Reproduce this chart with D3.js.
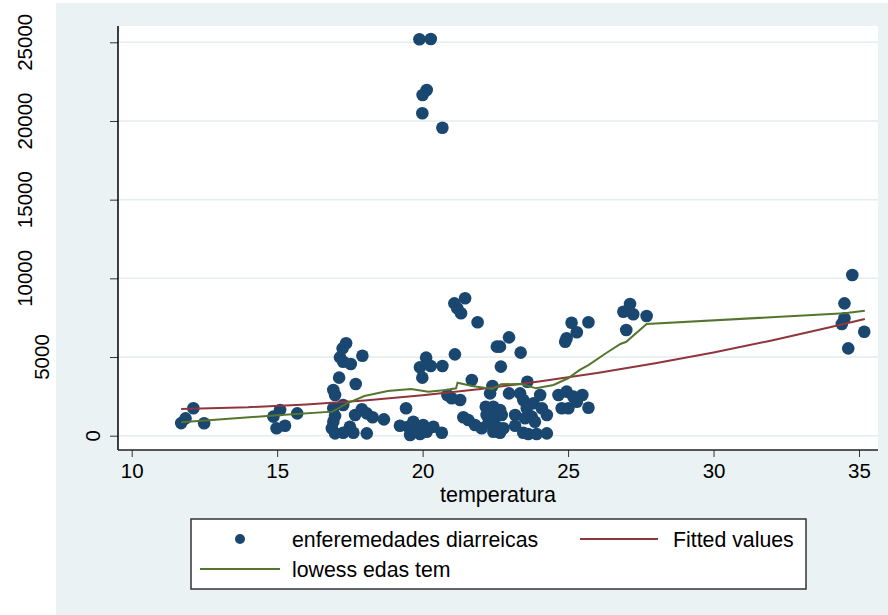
<!DOCTYPE html>
<html>
<head>
<meta charset="utf-8">
<script src="https://cdn.jsdelivr.net/npm/d3@7"></script>
<style>
  html, body { margin: 0; padding: 0; background: #fff; }
  svg { display: block; font-family: "Liberation Sans", Arial, sans-serif; }
</style>
</head>
<body>
<div id="chart"></div>
<script>
// scatter: temperatura vs enferemedades diarreicas
const tempX = [11.70, 11.85, 12.12, 12.49, 14.87, 15.10, 14.98, 15.27, 15.69,
  17.37, 17.25, 17.16, 17.27, 17.53, 17.93, 17.13, 16.93, 16.99, 17.70, 17.27, 16.99, 17.68, 17.91, 18.08, 18.28, 18.67,
  16.93, 16.88, 16.99, 17.27, 17.62, 18.08, 17.50, 16.93,
  19.43, 19.22, 19.51, 19.68, 19.80, 20.02, 20.14, 20.37, 20.66, 19.57, 19.91,
  20.12, 19.91, 20.28, 20.68, 19.99, 21.11, 21.09, 21.19, 21.32, 21.46, 21.89, 21.69,
  20.85, 21.00, 21.29, 21.40, 21.57, 21.80, 22.03,
  19.89, 20.28, 20.14, 20.00, 19.99, 20.68,
  22.66, 22.97, 22.55, 23.37, 22.69, 22.40, 22.32, 22.97, 23.60, 22.17, 22.43, 22.66, 22.20, 22.49, 22.72,
  22.26, 22.55, 22.78, 22.43, 22.66, 23.18, 23.18, 23.35, 23.46, 23.58, 23.81, 24.04, 24.10, 24.27,
  23.52, 23.75, 23.86, 23.46, 23.63, 23.92, 24.27,
  24.67, 24.95, 25.18, 25.49, 24.78, 25.01, 25.30, 25.70,
  24.90, 24.95, 25.12, 25.70, 25.30,
  27.13, 26.90, 27.24, 27.70, 27.00,
  34.77, 34.50, 34.50, 34.41, 35.18, 34.63];
const casosY = [800, 1100, 1740, 790, 1210, 1630, 470, 635, 1420,
  5870, 5550, 4980, 4700, 4560, 5080, 3690, 2900, 2590, 3290, 1950, 1250, 1320, 1680, 1420, 1170, 1040,
  890, 470, 150, 190, 190, 150, 570, 1740,
  1740, 635, 570, 890, 250, 680, 250, 570, 190, 40, 110,
  4960, 4350, 4430, 4430, 3690, 5170, 8410, 8100, 7780, 8730, 7210, 3540,
  2590, 2380, 2270, 1170, 1000, 680, 470,
  25190, 25210, 21970, 21650, 20490, 19570,
  5660, 6250, 5660, 5280, 4390, 3160, 2690, 2690, 3430, 1840, 1840, 1630, 1320, 1210, 1320,
  790, 570, 470, 250, 190, 1320, 635, 2690, 2270, 1740, 2060, 2590, 1740, 1320,
  1110, 1210, 890, 190, 110, 110, 150,
  2590, 2800, 2480, 2590, 1740, 1740, 2160, 1780,
  5970, 6190, 7180, 7210, 6570,
  8370, 7880, 7720, 7610, 6720,
  10210, 8410, 7460, 7100, 6610, 5550];

// Fitted values (linea roja)
const fitX = [11.7, 14, 16, 18, 20, 22, 24, 26, 28, 30, 32, 34, 35.2];
const fitY = [1700, 1810, 1990, 2240, 2570, 2970, 3440, 3980, 4600, 5290, 6050, 6890, 7420];

// lowess edas tem (linea verde)
const lowX = [11.7, 15, 16.9, 17.4, 18, 18.8, 19.6, 20.2, 20.8, 21.15, 21.2, 21.7, 22.4, 22.7, 23.4, 23.9, 24.5, 25.0, 25.4, 25.7, 26.3, 26.8, 27.0, 27.7, 34.5, 35.2];
const lowY = [850, 1300, 1530, 2050, 2520, 2840, 2970, 2800, 2900, 3010, 3370, 3160, 2970, 3270, 3290, 3010, 3220, 3650, 4180, 4490, 5240, 5830, 5970, 7100, 7780, 7940];

const xTicks = [10, 15, 20, 25, 30, 35];
const yTicks = [0, 5000, 10000, 15000, 20000, 25000];

const W = 888, H = 615;
const plot = { left: 118, right: 878, top: 26, bottom: 450 };

const svg = d3.select("#chart").append("svg")
  .attr("width", W)
  .attr("height", H);

// fondo
svg.append("rect")
  .attr("x", 56).attr("y", 3)
  .attr("width", W - 56).attr("height", H - 3)
  .attr("fill", "#eaf2f3");

svg.append("rect")
  .attr("x", plot.left).attr("y", plot.top)
  .attr("width", plot.right - plot.left).attr("height", plot.bottom - plot.top)
  .attr("fill", "#fff");

const x = d3.scaleLinear().domain([10, 35]).range([131.7, 859]);
const y = d3.scaleLinear().domain([0, 25000]).range([435.7, 42.3]);

// grid
svg.append("g")
  .selectAll("line")
  .data(yTicks)
  .enter().append("line")
  .attr("x1", plot.left).attr("x2", plot.right)
  .attr("y1", d => y(d)).attr("y2", d => y(d))
  .attr("stroke", "#e4edef")
  .attr("stroke-width", 1.5);

// eje Y
const gY = svg.append("g")
  .attr("transform", `translate(${plot.left},0)`)
  .call(d3.axisLeft(y).tickValues(yTicks).tickSize(8).tickFormat(d3.format("d")));
gY.select(".domain").remove();
gY.selectAll(".tick line").attr("stroke", "#333");
gY.selectAll(".tick text").remove();

// etiquetas Y giradas
const yLab = svg.append("g").selectAll("text")
  .data(yTicks)
  .enter().append("text")
  .attr("text-anchor", "middle")
  .attr("dy", "0.35em")
  .style("font-size", "20.5px")
  .style("fill", "#000")
  .text(d => d3.format("d")(d));
yLab.each(function(d) {
  const w = this.getComputedTextLength();
  const cx = 110 - 1.5 * w;
  d3.select(this).attr("transform", `translate(${cx},${y(d)}) rotate(-90)`);
});

svg.append("line")
  .attr("x1", plot.left).attr("x2", plot.left)
  .attr("y1", plot.top).attr("y2", plot.bottom)
  .attr("stroke", "#000").attr("stroke-width", 1.5);

// eje X
const gX = svg.append("g")
  .attr("transform", `translate(0,${plot.bottom})`)
  .call(d3.axisBottom(x).tickValues(xTicks).tickSize(7).tickPadding(6));
gX.select(".domain").remove();
gX.selectAll(".tick line").attr("stroke", "#333");
gX.selectAll(".tick text")
  .style("font-size", "20.5px")
  .style("font-family", "Liberation Sans, Arial, sans-serif")
  .style("fill", "#000");

svg.append("line")
  .attr("x1", plot.left).attr("x2", plot.right)
  .attr("y1", plot.bottom).attr("y2", plot.bottom)
  .attr("stroke", "#222").attr("stroke-width", 1.5);

svg.append("text")
  .attr("x", (plot.left + plot.right) / 2)
  .attr("y", 502)
  .attr("text-anchor", "middle")
  .style("font-size", "21.5px")
  .text("temperatura");

// puntos
const pts = tempX.map((t, i) => ({ t: t, c: casosY[i] }));
svg.append("g")
  .selectAll("circle")
  .data(pts)
  .enter().append("circle")
  .attr("cx", d => x(d.t))
  .attr("cy", d => y(d.c))
  .attr("r", 6.3)
  .attr("fill", "#1a476f");

const line = d3.line().x(d => x(d[0])).y(d => y(d[1]));

svg.append("path")
  .datum(fitX.map((v, i) => [v, fitY[i]]))
  .attr("d", line)
  .attr("fill", "none")
  .attr("stroke", "#90353b")
  .attr("stroke-width", 2);

svg.append("path")
  .datum(lowX.map((v, i) => [v, lowY[i]]))
  .attr("d", line)
  .attr("fill", "none")
  .attr("stroke", "#55752f")
  .attr("stroke-width", 2);

// leyenda
const leg = svg.append("g");
leg.append("rect")
  .attr("x", 191).attr("y", 519)
  .attr("width", 615).attr("height", 70)
  .attr("fill", "#fff")
  .attr("stroke", "#333")
  .attr("stroke-width", 1.5);

leg.append("circle")
  .attr("cx", 240).attr("cy", 539).attr("r", 5)
  .attr("fill", "#1a476f");
leg.append("line")
  .attr("x1", 580).attr("x2", 658).attr("y1", 539).attr("y2", 539)
  .attr("stroke", "#90353b").attr("stroke-width", 2);
leg.append("line")
  .attr("x1", 200).attr("x2", 280).attr("y1", 569).attr("y2", 569)
  .attr("stroke", "#55752f").attr("stroke-width", 2);

const legText = [
  { label: "enferemedades diarreicas", x: 292, y: 539 },
  { label: "Fitted values", x: 673, y: 539 },
  { label: "lowess edas tem", x: 292, y: 569 }
];
leg.selectAll("text")
  .data(legText)
  .enter().append("text")
  .attr("x", d => d.x)
  .attr("y", d => d.y)
  .attr("dy", "0.36em")
  .style("font-size", "21.3px")
  .text(d => d.label);
</script>
</body>
</html>
